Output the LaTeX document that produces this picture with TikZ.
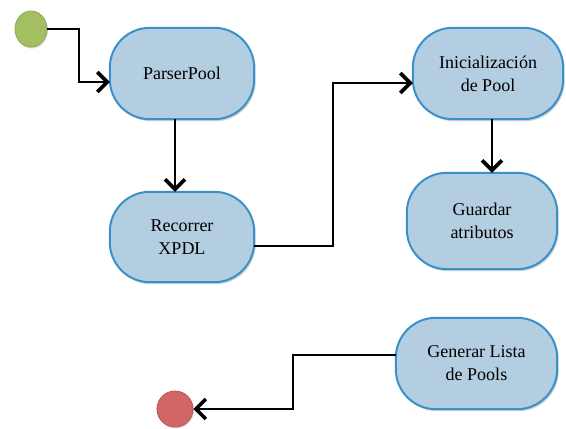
\documentclass[tikz,border=0pt]{standalone}
\usepackage{fontspec}
\setmainfont{Liberation Serif}
\usetikzlibrary{arrows.meta,shapes.geometric}
\pgfdeclarelayer{background}
\pgfsetlayers{background,main}
\definecolor{actfill}{HTML}{B3CDE1}
\definecolor{actline}{HTML}{3A90C8}
\definecolor{startfill}{HTML}{A4BF62}
\definecolor{startline}{HTML}{8FAA4F}
\definecolor{endfill}{HTML}{D26565}
\definecolor{endline}{HTML}{BE5050}
\tikzset{
  activity/.style={rectangle, draw=none, fill=none, align=center, text=black,
    font=\fontsize{18}{23}\selectfont, inner sep=0pt},
  actshape/.style={draw=actline, line width=2pt, fill=actfill,
    preaction={fill=black, opacity=0.18, transform canvas={shift={(1.5pt,-2pt)}}}},
  startnode/.style={ellipse, draw=startline, line width=0.8pt, fill=startfill,
    minimum width=32pt, minimum height=36pt, inner sep=0pt,
    preaction={fill=black, opacity=0.15, transform canvas={shift={(1pt,-1.5pt)}}}},
  endnode/.style={circle, draw=endline, line width=0.8pt, fill=endfill,
    minimum size=36pt, inner sep=0pt,
    preaction={fill=black, opacity=0.15, transform canvas={shift={(1pt,-1.5pt)}}}},
  flow/.style={line width=2.7pt, black,
    -{Straight Barb[length=10pt, width=20pt, line width=3.6pt]}}
}
\begin{document}
\begin{tikzpicture}[x=1pt, y=-1pt]
  \useasboundingbox (0,0) rectangle (566,429);

  % initial and final states
  \node[startnode] (start) at (31,29) {};
  \node[endnode] (stop) at (175,409) {};

  % activities (labels; the rounded outlines are drawn below)
  \node[activity, minimum width=144pt, minimum height=91pt] (parser) at (182,73.5) {ParserPool};
  \node[activity, minimum width=144pt, minimum height=90pt] (recorrer) at (182,237) {Recorrer\\XPDL};
  \node[activity, minimum width=150pt, minimum height=91pt] (inic) at (488,73.5) {Inicialización\\de Pool};
  \node[activity, minimum width=150pt, minimum height=96pt] (guardar) at (482,221) {Guardar\\atributos};
  \node[activity, minimum width=161pt, minimum height=91pt] (generar) at (476.5,363.5) {Generar Lista\\de Pools};

  % rounded activity outlines behind the labels
  \begin{pgfonlayer}{background}
    \begin{scope}[x=1pt, y=1pt]
      \foreach \n in {parser,recorrer,inic,guardar,generar}{
        \path[actshape]
          ([xshift=40pt]\n.north west) -- ([xshift=-40pt]\n.north east)
          arc[start angle=90, end angle=0, radius=40pt]
          -- ([yshift=40pt]\n.south east)
          arc[start angle=0, end angle=-90, radius=40pt]
          -- ([xshift=40pt]\n.south west)
          arc[start angle=270, end angle=180, radius=40pt]
          -- ([yshift=-40pt]\n.north west)
          arc[start angle=180, end angle=90, radius=40pt] -- cycle;
      }
    \end{scope}
  \end{pgfonlayer}

  % routing columns
  \coordinate (c1) at (79,0);
  \coordinate (c2) at (333,0);
  \coordinate (c3) at (492,0);
  \coordinate (c4) at (293,0);

  % transitions
  \draw[flow] (start.east) -| (c1 |- 0,60) |- ([yshift=-8.5pt]parser.west);
  \draw[flow] ([xshift=-7pt]parser.south) -- ([xshift=-7pt]recorrer.north);
  \draw[flow] ([yshift=-9pt]recorrer.east) -| (c2 |- 0,160) |- ([yshift=-9.5pt]inic.west);
  \draw[flow] (inic.south -| c3) -- (guardar.north -| c3);
  \draw[flow] ([yshift=8.5pt]generar.west) -| (c4 |- 0,380) |- (stop.east);
\end{tikzpicture}
\end{document}
